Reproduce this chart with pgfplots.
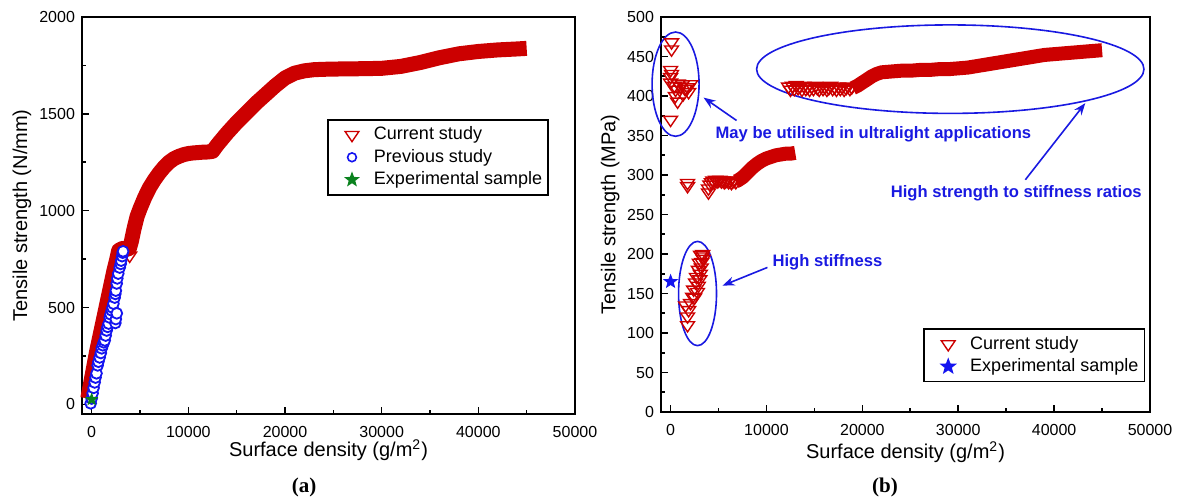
\documentclass[border=0pt]{standalone}
\usepackage{fontspec}
\setmainfont{Liberation Sans}
\newfontfamily\serifbf{Liberation Serif}
\usepackage{pgfplots}
\pgfplotsset{compat=1.18}
\usetikzlibrary{arrows.meta}

\definecolor{cs}{RGB}{204,0,0}
\definecolor{ann}{RGB}{25,25,225}
\definecolor{pblue}{RGB}{20,20,240}
\definecolor{sgreen}{RGB}{10,130,30}

% filled five-pointed star
\pgfdeclareplotmark{fstar}{%
  \pgfpathmoveto{\pgfpointpolar{90}{\pgfplotmarksize}}%
  \pgfpathlineto{\pgfpointpolar{126}{0.42\pgfplotmarksize}}%
  \pgfpathlineto{\pgfpointpolar{162}{\pgfplotmarksize}}%
  \pgfpathlineto{\pgfpointpolar{198}{0.42\pgfplotmarksize}}%
  \pgfpathlineto{\pgfpointpolar{234}{\pgfplotmarksize}}%
  \pgfpathlineto{\pgfpointpolar{270}{0.42\pgfplotmarksize}}%
  \pgfpathlineto{\pgfpointpolar{306}{\pgfplotmarksize}}%
  \pgfpathlineto{\pgfpointpolar{342}{0.42\pgfplotmarksize}}%
  \pgfpathlineto{\pgfpointpolar{18}{\pgfplotmarksize}}%
  \pgfpathlineto{\pgfpointpolar{54}{0.42\pgfplotmarksize}}%
  \pgfpathclose\pgfusepathqfillstroke}

\pgfplotsset{
  panel/.style={
    scale only axis, clip=false,
    axis line style={line width=0.8pt},
    xmin=-1000, xmax=50000, xtick={0,10000,...,50000}, minor x tick num=1,
    tick pos=left, tick align=inside,
    major tick length=3.5pt, minor tick length=2pt,
    every tick/.style={black, line width=0.8pt},
    scaled ticks=false,
    /pgf/number format/1000 sep={},
    /pgf/number format/assume math mode=true,
    tick label style={font=\fontsize{8}{9}\selectfont},
    xticklabel style={yshift=-2.5pt},
    label style={font=\fontsize{10}{12}\selectfont},
    legend cell align=left,
    legend image code/.code={\path[draw=none] (0pt,0pt) -- (20pt,0pt);
      \draw[#1] plot coordinates {(11pt,0pt)};},
    legend style={draw=black, line width=0.8pt, font=\fontsize{9}{11}\selectfont,
      inner xsep=1pt, inner ysep=1.5pt, row sep=-0.8pt},
  },
  ctri/.style={only marks, mark=triangle, mark size=4pt,
    mark options={rotate=180, yscale=0.85, draw=cs, line width=0.7pt}},
  band/.style={cs, line width=7.5pt, line join=round, no markers},
}

\begin{document}
\begin{tikzpicture}
\path[use as bounding box] (0,0) rectangle (589pt,250pt);

% ---------------- (a)
\begin{axis}[panel, at={(41pt,43pt)}, anchor=south west,
  width=246.5pt, height=198.5pt,
  ymin=-50, ymax=2000, ytick={0,500,...,2000}, minor y tick num=1,
  xlabel={Surface density (g/m\textsuperscript{2})},
  ylabel={Tensile strength (N/mm)},
  xlabel style={at={(axis description cs:0.5,-0.091)}, anchor=center},
  ylabel style={at={(axis description cs:-0.122,0.5)}, anchor=center},
  legend style={at={(0.947,0.743)}, anchor=north east},
]
\addlegendimage{ctri}
\addlegendentry{Current study}
\addlegendimage{only marks, mark=*, mark size=2.2pt, mark options={draw=pblue, fill=white, line width=0.8pt}}
\addlegendentry{Previous study}
\addlegendimage{only marks, mark=fstar, mark size=3pt, mark options={draw=sgreen, fill=sgreen}}
\addlegendentry{Experimental sample}

% current study
\addplot[band, forget plot] coordinates {
 (-400,30) (-100,110) (200,190) (500,270) (800,340) (1100,410) (1400,480)
 (1700,550) (2000,620) (2300,690) (2600,750) (2800,795) (3200,805)
 (3600,800) (3900,805) (4100,840) (4400,910) (4700,970) (5000,1010)
 (5500,1070) (6000,1120) (6500,1160) (7000,1195) (7500,1225) (8000,1250)
 (8500,1268) (9000,1280) (9500,1289) (10000,1295) (10500,1298) (11000,1300)
 (11500,1302) (12000,1303) (12500,1306) (13000,1340) (14000,1400)
 (15000,1455) (16000,1505) (17000,1555) (18000,1600) (19000,1645)
 (20000,1685) (21000,1710) (22000,1722) (23000,1728) (24000,1730)
 (26000,1732) (28000,1733) (30000,1735) (32000,1745) (34000,1765)
 (36000,1790) (38000,1810) (40000,1822) (42000,1830) (44000,1835) (45000,1838)
};
\addplot[ctri, forget plot] coordinates {(3930,768)};
% previous study
\addplot[only marks, mark=*, mark size=2.7pt, mark options={draw=pblue, fill=white, line width=0.9pt}, forget plot] coordinates {
 (-100,5) (0,30) (100,57) (200,85) (310,113) (400,138) (500,160) (620,201)
 (700,220) (830,242) (950,265) (1040,289) (1150,305) (1250,320) (1350,330)
 (1450,355) (1550,381) (1650,400) (1750,417) (1860,448) (1950,465)
 (2070,485) (2150,500) (2250,520) (2450,420) (2500,440) (2600,470)
 (2380,551) (2450,570) (2500,587) (2590,624) (2650,650) (2750,675)
 (2900,706) (3000,725) (3050,742) (3150,765) (3210,783) (3250,790)
};
% experimental sample
\addplot[only marks, mark=fstar, mark size=3pt, mark options={draw=sgreen, fill=sgreen}, forget plot] coordinates {(0,25)};
\end{axis}

% ---------------- (b)
\begin{axis}[panel, at={(330.5pt,44pt)}, anchor=south west,
  width=244.5pt, height=197.5pt,
  ymin=0, ymax=500, ytick={0,50,...,500}, minor y tick num=1,
  xlabel={Surface density (g/m\textsuperscript{2})},
  ylabel={Tensile strength (MPa)},
  xlabel style={at={(axis description cs:0.5,-0.101)}, anchor=center},
  ylabel style={at={(axis description cs:-0.104,0.5)}, anchor=center},
  legend style={at={(0.990,0.075)}, anchor=south east},
]
\addlegendimage{ctri}
\addlegendentry{Current study}
\addlegendimage{only marks, mark=fstar, mark size=3.4pt, mark options={draw=pblue, fill=pblue}}
\addlegendentry{Experimental sample}

% ultralight cluster
\addplot[ctri, forget plot] coordinates {
 (100,468) (100,459) (0,433) (100,428) (0,424) (0,417) (400,413) (520,408)
 (800,416) (1000,412) (1250,415) (1500,409) (1770,411) (2080,415)
 (1880,405) (1300,402) (500,400) (730,393) (0,370)
};
% middle cluster
\addplot[band, line width=7pt, forget plot] coordinates {
 (6800,292) (7000,293) (7500,297) (8000,303) (8500,309) (9000,314)
 (9500,318) (10000,321) (10500,323) (11000,325) (11500,326) (12000,327)
 (12500,327) (13000,328)
};
\addplot[ctri, forget plot] coordinates {
 (1770,290) (1770,286) (3950,283) (3950,278) (4100,288) (4250,291)
 (4400,293) (4550,291) (4700,294) (4850,292) (5000,293) (5150,294)
 (5300,292) (5450,293) (5600,291) (5750,292) (5900,293) (6050,291)
 (6200,292) (6350,290) (6500,292) (6650,293) (6800,291)
};
% high stiffness cluster
\addplot[ctri, forget plot] coordinates {
 (1770,110) (1770,121) (1880,129) (1560,135) (2080,138) (2290,146)
 (2500,145) (2400,155) (2800,152) (2600,164) (2900,160) (3050,168)
 (2700,171) (3100,175) (2900,180) (3200,183) (3000,189) (3250,190)
 (3400,194) (3130,199) (3300,197) (3350,200)
};
% high strength cluster
\addplot[band, line width=7pt, forget plot] coordinates {
 (19000,410) (19500,413) (20000,417) (20500,421) (21000,425) (21500,428)
 (22000,430) (23000,431) (24000,432) (25000,432) (26000,433) (27000,433)
 (28000,434) (29000,434) (30000,435) (31000,436) (32000,438) (33000,440)
 (34000,442) (35000,444) (36000,446) (37000,448) (38000,450) (39000,452)
 (40000,453) (41000,454) (42000,455) (43000,456) (44000,457) (45000,458)
};
\addplot[ctri, forget plot] coordinates {
 (12300,412) (12500,408) (12700,413) (12900,409) (13100,414) (13300,410)
 (13500,412) (13700,408) (13900,413) (14100,409) (14300,411) (14500,408)
 (14700,412) (14900,409) (15100,413) (15300,410) (15500,408) (15700,412)
 (15900,409) (16100,411) (16300,408) (16500,410) (16700,413) (16900,409)
 (17100,411) (17300,408) (17500,412) (17700,409) (17900,411) (18100,408)
 (18300,410) (18500,412) (18700,409) (18900,411)
};
% experimental sample
\addplot[only marks, mark=fstar, mark size=3.4pt, mark options={draw=pblue, fill=pblue}, forget plot] coordinates {(0,165)};

% annotations
\draw[ann, line width=0.8pt] (axis cs:520,415) ellipse [x radius=2450, y radius=66];
\draw[ann, line width=0.8pt] (axis cs:29170,434) ellipse [x radius=20200, y radius=56];
\draw[ann, line width=0.8pt] (axis cs:2810,150) ellipse [x radius=1980, y radius=66];
\draw[ann, line width=0.8pt, -{Stealth[length=6pt,width=4.5pt]}] (axis cs:6880,369) -- (axis cs:3440,398);
\draw[ann, line width=0.8pt, -{Stealth[length=6pt,width=4.5pt]}] (axis cs:37000,294) -- (axis cs:43250,391);
\draw[ann, line width=0.8pt, -{Stealth[length=6pt,width=4.5pt]}] (axis cs:10100,183) -- (axis cs:5420,160);
\node[ann, font=\bfseries\fontsize{8.3}{10}\selectfont] at (axis cs:21150,352) {May be utilised in ultralight applications};
\node[ann, font=\bfseries\fontsize{8.3}{10}\selectfont] at (axis cs:36050,277) {High strength to stiffness ratios};
\node[ann, font=\bfseries\fontsize{8.3}{10}\selectfont] at (axis cs:16360,189) {High stiffness};
\end{axis}

\node[font=\serifbf\bfseries\fontsize{10.5}{12}\selectfont] at (152pt,6.5pt) {(a)};
\node[font=\serifbf\bfseries\fontsize{10.5}{12}\selectfont] at (442.5pt,6.5pt) {(b)};
\end{tikzpicture}
\end{document}
